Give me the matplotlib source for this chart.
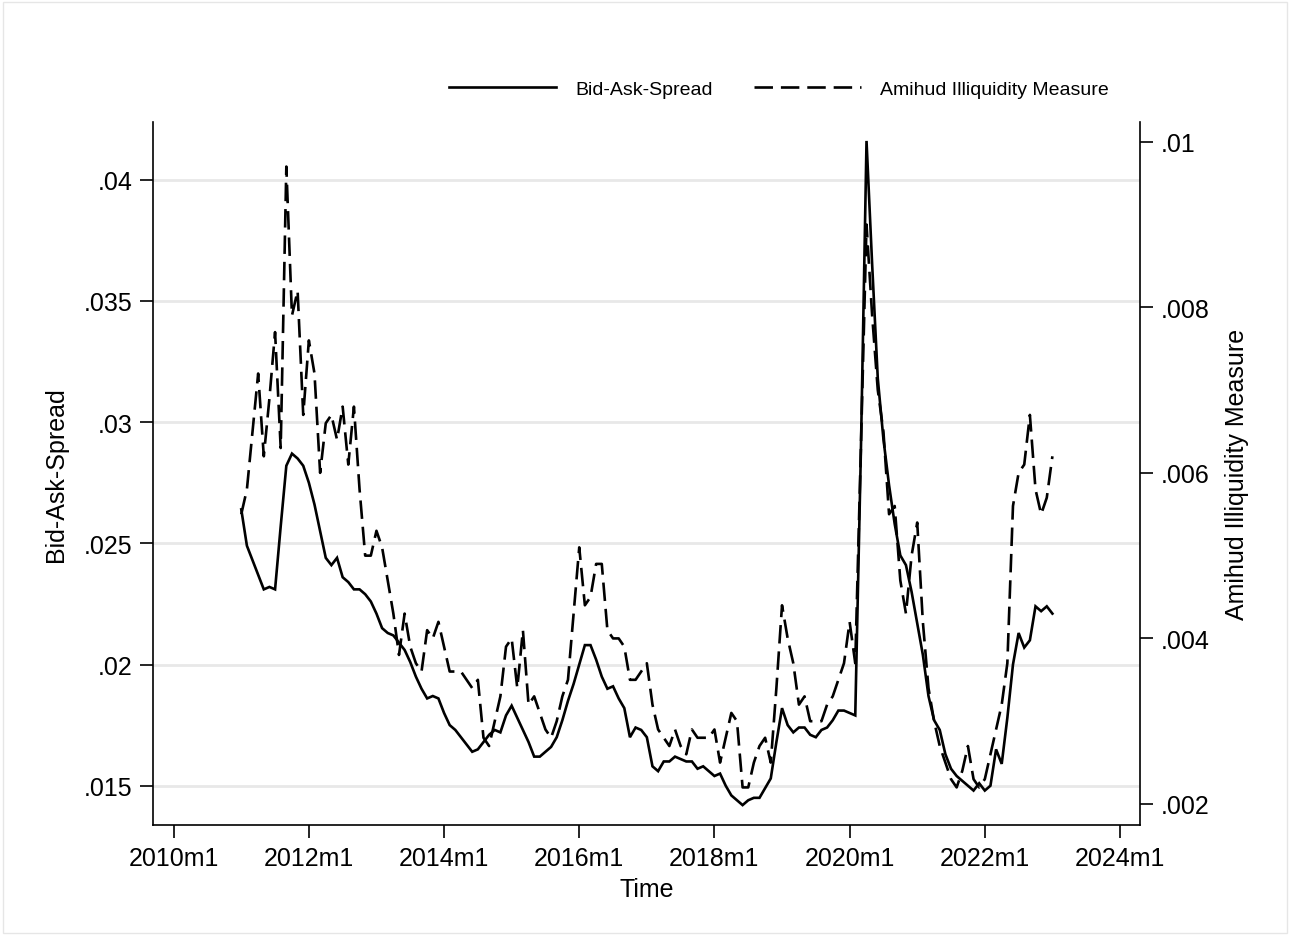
import numpy as np
import matplotlib
matplotlib.use('Agg')
import matplotlib.pyplot as plt
from matplotlib.patches import Rectangle

# monthly series, 2011m1 .. 2023m1
START_YEAR = 2011

bid_ask = [
  .0264, .0249, .0243, .0237, .0231, .0232, .0231, .0257, .0282, .0287, .0285, .0282,
  .0275, .0266, .0255, .0244, .0241, .0244, .0236, .0234, .0231, .0231, .0229, .0226,
  .0221, .0215, .0213, .0212, .0209, .0206, .0201, .0195, .0190, .0186, .0187, .0186,
  .0180, .0175, .0173, .0170, .0167, .0164, .0165, .0168, .0171, .0173, .0172, .0179,
  .0183, .0178, .0173, .0168, .0162, .0162, .0164, .0166, .0170, .0177, .0185, .0192,
  .0200, .0208, .0208, .0202, .0195, .0190, .0191, .0186, .0182, .0170, .0174, .0173,
  .0170, .0158, .0156, .0160, .0160, .0162, .0161, .0160, .0160, .0157, .0158, .0156,
  .0154, .0155, .0150, .0146, .0144, .0142, .0144, .0145, .0145, .0149, .0153, .0168,
  .0182, .0175, .0172, .0174, .0174, .0171, .0170, .0173, .0174, .0177, .0181, .0181,
  .0180, .0179, .0288, .0416, .0365, .0318, .0293, .0274, .0258, .0245, .0241, .0230,
  .0217, .0204, .0187, .0177, .0173, .0163, .0157, .0154, .0152, .0150, .0148, .0151,
  .0148, .0150, .0165, .0159, .0178, .0200, .0213, .0207, .0210, .0224, .0222, .0224,
  .0221,
]

amihud = [
  .0055, .0058, .0065, .0072, .0062, .0069, .0077, .0063, .0097, .0079, .0082, .0067,
  .0076, .0072, .0060, .0066, .0067, .0064, .0068, .0061, .0068, .0058, .0050, .0050,
  .0053, .0051, .0047, .0043, .0038, .0043, .0039, .0037, .0036, .0041, .0040, .0042,
  .0039, .0036, .0036, .0036, .0035, .0034, .0035, .0028, .0027, .0030, .0033, .0039,
  .0040, .0034, .0041, .0032, .0033, .0031, .0029, .0028, .0030, .0033, .0035, .0043,
  .0051, .0044, .0045, .0049, .0049, .0041, .0040, .0040, .0039, .0035, .0035, .0036,
  .0037, .0032, .0029, .0028, .0027, .0029, .0027, .0026, .0029, .0028, .0028, .0028,
  .0029, .0025, .0028, .0031, .0030, .0022, .0022, .0025, .0027, .0028, .0025, .0034,
  .0044, .0040, .0037, .0032, .0033, .0030, .0030, .0030, .0032, .0033, .0035, .0037,
  .0042, .0037, .0063, .0090, .0079, .0070, .0065, .0055, .0056, .0047, .0043, .0050,
  .0054, .0042, .0034, .0030, .0027, .0025, .0023, .0022, .0024, .0027, .0023, .0022,
  .0023, .0026, .0029, .0032, .0037, .0056, .0060, .0061, .0067, .0058, .0055, .0057,
  .0062,
]

left_ticks = [.015, .02, .025, .03, .035, .04]
left_labels = ['.015', '.02', '.025', '.03', '.035', '.04']
right_ticks = [.002, .004, .006, .008, .01]
right_labels = ['.002', '.004', '.006', '.008', '.01']
tick_years = [2010, 2012, 2014, 2016, 2018, 2020, 2022, 2024]


def stata_month(year, month=1):
  ''' months since 1960m1, as Stata counts them '''
  return (year - 1960) * 12 + month - 1


def style_axis(ax):
  ax.tick_params(direction='out', length=9.4, width=1.2, pad=5.5,
                 labelsize=18, color='black')
  for s in ax.spines.values():
    s.set_linewidth(1.2)
  ax.spines['top'].set_visible(False)


def main():
  plt.rcParams['font.family'] = ['Liberation Sans', 'DejaVu Sans']

  W, H = 1290, 937
  fig = plt.figure(figsize=(W / 100, H / 100), dpi=100)
  ax = fig.add_axes([153 / W, 1 - 826 / H, (1140 - 153) / W, (826 - 122.7) / H])
  ax2 = ax.twinx()

  x = stata_month(START_YEAR) + np.arange(len(bid_ask))

  l1, = ax.plot(x, bid_ask, color='black', lw=1.9, solid_joinstyle='miter',
                label='Bid-Ask-Spread')
  l2, = ax2.plot(x, amihud, color='black', lw=1.9, linestyle=(0, (7, 3)),
                 label='Amihud Illiquidity Measure')

  ax.set_xlim(596.33, 771.55)
  ax.set_ylim(.013379, .042393)
  ax2.set_ylim(.001746, .010242)

  ax.set_xticks([stata_month(y) for y in tick_years])
  ax.set_xticklabels([f'{y}m1' for y in tick_years])
  ax.set_yticks(left_ticks)
  ax.set_yticklabels(left_labels)
  ax2.set_yticks(right_ticks)
  ax2.set_yticklabels(right_labels)

  ax.yaxis.grid(True, color='#e8e8e8', lw=2)
  ax.set_axisbelow(True)

  style_axis(ax)
  style_axis(ax2)
  ax.spines['right'].set_visible(False)
  ax2.spines['left'].set_visible(False)
  ax2.spines['bottom'].set_visible(False)

  ax.set_xlabel('Time', fontsize=18, labelpad=5)
  ax.set_ylabel('Bid-Ask-Spread', fontsize=18, labelpad=11)
  ax2.set_ylabel('Amihud Illiquidity Measure', fontsize=18, labelpad=11)

  fig.legend([l1, l2], [l1.get_label(), l2.get_label()], ncol=2,
             loc='center', bbox_to_anchor=(0.604, 0.904), frameon=False,
             fontsize=14, handlelength=5.5, handletextpad=1.0,
             columnspacing=2.1)

  fig.add_artist(Rectangle((3 / W, 3 / H), 1 - 6 / W, 1 - 6 / H,
                           transform=fig.transFigure, fill=False,
                           edgecolor='#e6e6e6', lw=1))

  fig.savefig('out.png', dpi=100)


if __name__ == '__main__':
  main()
